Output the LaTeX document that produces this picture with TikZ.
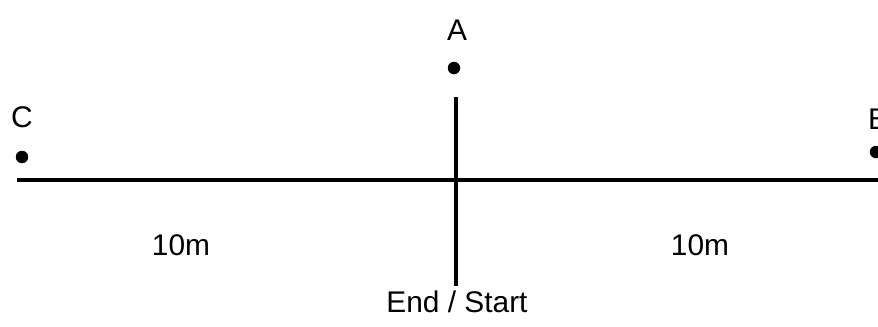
\documentclass[tikz,border=0pt]{standalone}
\usepackage{fontspec}
\setmainfont{Liberation Sans}
\usetikzlibrary{positioning}
\tikzset{
  spot/.style={circle,fill=black,inner sep=0pt,minimum size=0.25cm},
  ptlabel/.style={font=\fontsize{17}{19}\selectfont,inner sep=0pt},
  distlabel/.style={font=\fontsize{17}{19}\selectfont,inner sep=0pt},
  track/.style={draw=black,line width=2.2pt}
}
\begin{document}
\begin{tikzpicture}[x=0.02cm,y=-0.02cm]
  \useasboundingbox (0,0) rectangle (878,326);
  % points
  \node[spot] (a) at (454,68) {};
  \node[spot] (c) at (22,157) {};
  \node[spot] (b) at (876,152) {};
  \node[ptlabel] (alab) at (457,30) {A};
  \node[ptlabel] (clab) at (22,117) {C};
  \node[ptlabel] (blab) at (878,119) {B};
  % course
  \coordinate (west) at (17,180);
  \coordinate (east) at (880,180);
  \coordinate (top) at (456,97);
  \coordinate (bottom) at (456,286);
  \draw[track] (west) -- (east);
  \draw[track] (top) -- (bottom);
  \node[distlabel] (leftdist) at (181,245) {10m};
  \node[distlabel] (rightdist) at (700,245) {10m};
  \node[distlabel] (mark) at (457,302) {End / Start};
\end{tikzpicture}
\end{document}
